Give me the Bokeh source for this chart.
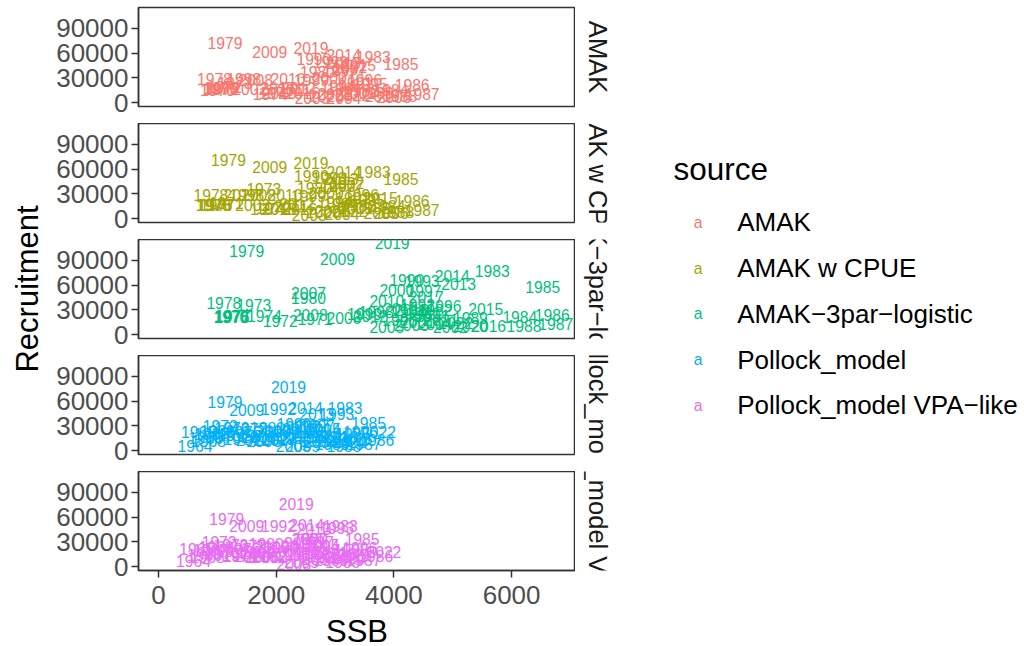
import math
from bokeh.plotting import figure
from bokeh.models import Range1d, FixedTicker, NumeralTickFormatter
from bokeh.layouts import row, column
from bokeh.embed import file_html
from bokeh.resources import INLINE
from bokeh.core.properties import value

# ---------------- data ----------------
SOURCES = ["AMAK", "AMAK w CPUE", "AMAK\u22123par\u2212logistic",
           "Pollock_model", "Pollock_model VPA\u2212like"]
COLORS = ["#F8766D", "#A3A500", "#00BF7D", "#00B0F6", "#E76BF3"]

X_TICKS = [0, 2000, 4000, 6000]
Y_TICKS = [0, 30000, 60000, 90000]
X_TITLE = "SSB"
Y_TITLE = "Recruitment"
LEGEND_TITLE = "source"

YEARS_AMAK = list(range(1970, 2023))
YEARS_POLL = list(range(1964, 2023))

SSB_AMAK = [1000, 1120, 2000, 1300, 1900, 1050, 1060, 1080, 950, 1130,
            2700, 3150, 3450, 3650, 3950, 4120, 4310, 4480, 4100, 3700,
            2640, 3350, 3250, 2920, 3050, 3600, 3500, 3090, 1450, 2600,
            2900, 3400, 1550, 2610, 3150, 3800, 4000, 3250, 1650, 1890,
            2200, 2300, 2380, 3140, 3150, 3400, 2450, 2030, 2050, 2590,
            2850, 3000, 3300]
REC_AMAK = [15500, 19000, 12000, 24000, 10500, 16500, 18000, 17000, 28700, 71800,
            37500, 17000, 14500, 55600, 15000, 46400, 21400, 10100, 8000, 12000,
            52500, 24000, 43500, 49600, 20000, 22500, 27500, 38700, 28500, 27000,
            30000, 12000, 16200, 5000, 6000, 7500, 7300, 40500, 27500, 61700,
            28500, 15000, 17500, 48000, 57700, 45000, 12000, 17500, 11000, 66500,
            8500, 10000, 9000]

SSB_CPUE = [930, 1150, 1950, 1790, 1850, 940, 960, 1000, 890, 1190,
            2650, 3100, 3400, 3650, 3900, 4120, 4310, 4480, 4050, 3650,
            2600, 3300, 3200, 2900, 3000, 3550, 3450, 3050, 1500, 2550,
            2850, 3350, 1600, 2560, 3120, 3780, 3950, 3200, 1700, 1890,
            2150, 2250, 2350, 3100, 3150, 3770, 2400, 1400, 2050, 2590,
            2800, 2950, 3250]
REC_CPUE = [16000, 18500, 13000, 35900, 11000, 16000, 17000, 16800, 28700, 71000,
            37000, 17500, 15000, 56500, 15500, 47600, 21400, 10500, 8500, 12500,
            52000, 24500, 43000, 49000, 20500, 23000, 28000, 39000, 29000, 27500,
            30500, 12500, 16800, 4500, 5500, 7000, 7000, 40000, 28000, 62200,
            29000, 15500, 18000, 47500, 57000, 25400, 11500, 28000, 11500, 67000,
            8500, 9500, 9000]

SSB_3PAR = [1230, 2660, 2070, 1620, 1800, 1240, 1250, 1260, 1110, 1500,
            2550, 4500, 4700, 5670, 6140, 6530, 6690, 6750, 6210, 5300,
            4220, 4650, 4400, 4480, 4250, 4100, 4850, 4510, 3700, 3500,
            4050, 4400, 4960, 4300, 4700, 3880, 3150, 2550, 2580, 3040,
            3880, 4100, 3600, 5100, 4990, 5560, 5610, 4550, 4300, 3970,
            5300, 4800, 5050]
REC_3PAR = [21000, 18300, 16200, 36400, 22000, 22000, 21500, 22500, 38400, 102000,
            44500, 26000, 30000, 77100, 21500, 58200, 23900, 12600, 9800, 20000,
            65800, 22500, 36000, 65000, 27000, 18000, 34800, 53000, 27000, 25000,
            54200, 15000, 8600, 11000, 12500, 8600, 20300, 50500, 24300, 91200,
            40900, 31000, 23000, 61800, 71100, 30700, 10600, 45000, 30000, 111000,
            10800, 18000, 14000]

SSB_POLL = [620, 680, 800, 900, 850, 1000, 1100, 1200, 1050, 1250,
            1400, 1300, 1450, 1550, 1650, 1130, 1850, 2300, 2700, 3170,
            2900, 3570, 3710, 3490, 3150, 2950, 2300, 2600, 2040, 3030,
            2800, 3300, 3430, 2700, 2500, 2100, 1950, 2200, 1900, 2290,
            2750, 2450, 1790, 2610, 1700, 1500, 2400, 1600, 2050, 2690,
            2500, 2800, 3000, 2450, 3100, 2210, 3250, 3350, 3740]
REC_POLL = [5800, 22700, 15000, 20000, 12000, 24000, 17000, 21000, 30000, 27000,
            14000, 19000, 22000, 26000, 18000, 59000, 27500, 15000, 12000, 51300,
            17000, 34000, 13000, 7700, 5800, 8000, 32800, 22000, 50100, 44000,
            25000, 20000, 22700, 30000, 16000, 23000, 24000, 19000, 12500, 5800,
            10000, 6000, 11900, 30000, 16500, 49300, 26000, 13000, 14500, 44900,
            51300, 26500, 12000, 29000, 16000, 77100, 10500, 14000, 21900]

SSB_VPA = [595, 650, 780, 880, 830, 980, 1080, 1390, 1030, 1230,
           1380, 1280, 1430, 1530, 1630, 1160, 1830, 2280, 2680, 3090,
           2880, 3460, 3690, 3490, 3130, 2930, 2580, 2580, 2040, 3030,
           2780, 3280, 3420, 2680, 2480, 2080, 1930, 2180, 1880, 2300,
           2730, 2430, 1760, 2560, 1680, 1500, 2380, 1580, 1900, 2640,
           2520, 2780, 2980, 2430, 3080, 2340, 3230, 3330, 3830]
REC_VPA = [6500, 21400, 14500, 19500, 12000, 23500, 16500, 12600, 29500, 26500,
           13500, 18500, 21500, 25500, 17500, 57700, 27000, 14500, 11500, 49700,
           16500, 33500, 12500, 7400, 5500, 7500, 33500, 21500, 48900, 46800,
           24500, 19500, 22000, 29500, 15500, 22500, 23500, 18500, 12000, 3300,
           9500, 5500, 11500, 33000, 16000, 48900, 25500, 12500, 12600, 45600,
           50400, 26000, 11500, 28500, 15500, 75800, 10000, 13500, 17400]

PANELS = [
    (YEARS_AMAK, SSB_AMAK, REC_AMAK),
    (YEARS_AMAK, SSB_CPUE, REC_CPUE),
    (YEARS_AMAK, SSB_3PAR, REC_3PAR),
    (YEARS_POLL, SSB_POLL, REC_POLL),
    (YEARS_POLL, SSB_VPA, REC_VPA),
]

# ---------------- style / layout ----------------
FONT = "Liberation Sans"
X_RANGE = (-340, 7086)
Y_RANGE = (-4840, 115400)
FRAME_W, FRAME_H, GAP, TOP = 437, 99, 17, 7
LABEL_W = 50           # column holding the y-axis title
LEFT = 88              # room for y tick labels
STRIP_W = 44
LEG_W = 403
TOTAL_H = 640


def style_axis(ax):
    ax.axis_line_color = "#333333"
    ax.axis_line_width = 1.5
    ax.major_tick_line_color = "#333333"
    ax.major_tick_line_width = 1.5
    ax.major_tick_out = 7
    ax.major_tick_in = 0
    ax.minor_tick_line_color = None
    ax.major_label_text_font = FONT
    ax.major_label_text_font_size = "26px"
    ax.major_label_text_color = "#4D4D4D"
    ax.axis_label_text_font = FONT
    ax.axis_label_text_font_size = "31px"
    ax.axis_label_text_font_style = "normal"
    ax.axis_label_text_color = "#000000"


def blank(fig):
    fig.outline_line_color = None
    fig.xgrid.visible = False
    fig.ygrid.visible = False
    fig.background_fill_color = "white"
    fig.border_fill_color = "white"


rows = []
n = len(PANELS)
for i, (yrs, ssb, rec) in enumerate(PANELS):
    last = (i == n - 1)
    top = TOP if i == 0 else 0
    p = figure(frame_width=FRAME_W, frame_height=FRAME_H,
               x_range=Range1d(*X_RANGE), y_range=Range1d(*Y_RANGE),
               x_axis_location="below" if last else None,
               output_backend="svg", toolbar_location=None,
               min_border_left=LEFT, min_border_right=0,
               min_border_top=top, min_border_bottom=0 if last else GAP)
    p.background_fill_color = "white"
    p.border_fill_color = "white"
    p.outline_line_color = "#333333"
    p.outline_line_width = 1.5
    p.xgrid.visible = False
    p.ygrid.visible = False
    p.yaxis.ticker = FixedTicker(ticks=Y_TICKS)
    p.yaxis.formatter = NumeralTickFormatter(format="0")
    style_axis(p.yaxis[0])
    p.yaxis.major_label_standoff = 3
    if last:
        p.xaxis.ticker = FixedTicker(ticks=X_TICKS)
        p.xaxis.formatter = NumeralTickFormatter(format="0")
        style_axis(p.xaxis[0])
        p.xaxis.major_label_standoff = 8
        p.xaxis.axis_label = X_TITLE
        p.xaxis.axis_label_standoff = 7
    p.text(x=ssb, y=rec, text=[str(y) for y in yrs],
           text_color=COLORS[i], text_font=value(FONT),
           text_font_size="15.7px", text_align="center",
           text_baseline="middle")

    s = figure(frame_width=STRIP_W, frame_height=FRAME_H,
               x_range=Range1d(0, 1), y_range=Range1d(0, 1),
               x_axis_location=None, y_axis_location=None,
               output_backend="svg", toolbar_location=None,
               min_border_left=0, min_border_right=0,
               min_border_top=top, min_border_bottom=GAP)
    blank(s)
    s.text(x=[0.5], y=[0.5], text=[SOURCES[i]], angle=-math.pi / 2,
           text_color="#1A1A1A", text_font=value(FONT),
           text_font_size="25.5px", text_align="center",
           text_baseline="middle")
    rows.append(row(p, s))

# ---------------- y-axis title column ----------------
yl = figure(frame_width=LABEL_W, frame_height=TOTAL_H,
            x_range=Range1d(0, LABEL_W), y_range=Range1d(TOTAL_H, 0),
            x_axis_location=None, y_axis_location=None,
            output_backend="svg", toolbar_location=None,
            min_border_left=0, min_border_right=0,
            min_border_top=0, min_border_bottom=0)
blank(yl)
yl.text(x=[27], y=[288.5], text=[Y_TITLE], angle=math.pi / 2,
        text_color="#000000", text_font=value(FONT), text_font_size="31px",
        text_align="center", text_baseline="middle")

# ---------------- legend ----------------
lg = figure(frame_width=LEG_W, frame_height=TOTAL_H,
            x_range=Range1d(0, LEG_W), y_range=Range1d(TOTAL_H, 0),
            x_axis_location=None, y_axis_location=None,
            output_backend="svg", toolbar_location=None,
            min_border_left=0, min_border_right=0,
            min_border_top=0, min_border_bottom=0)
blank(lg)
lg.text(x=[54], y=[168], text=[LEGEND_TITLE], text_color="#000000",
        text_font=value(FONT), text_font_size="31.5px",
        text_align="left", text_baseline="middle")
item_y = [221.7 + 45.8 * k for k in range(len(SOURCES))]
lg.text(x=[78.7] * len(SOURCES), y=item_y, text=["a"] * len(SOURCES),
        text_color=COLORS, text_font=value(FONT), text_font_size="15.7px",
        text_align="center", text_baseline="middle")
lg.text(x=[117.7] * len(SOURCES), y=item_y, text=SOURCES,
        text_color="#000000", text_font=value(FONT), text_font_size="26px",
        text_align="left", text_baseline="middle")

layout = row(yl, column(*rows), lg)
open("out.html", "w").write(file_html(layout, INLINE))
